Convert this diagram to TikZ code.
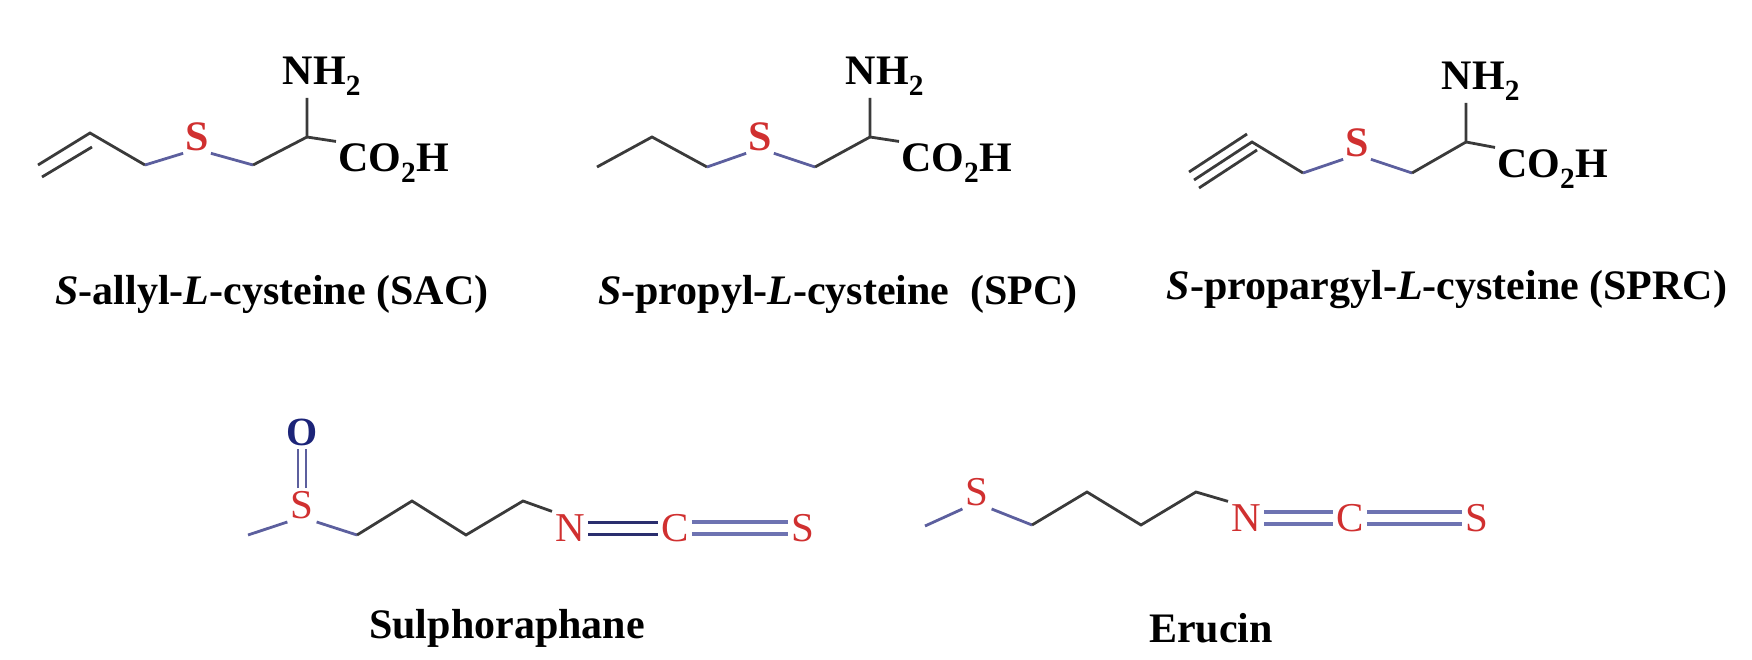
\documentclass[tikz,border=0pt]{standalone}
\usetikzlibrary{calc}
\usepackage{fontspec}
\setmainfont{Liberation Serif}
\definecolor{bnd}{HTML}{3A3A3A}
\definecolor{sbnd}{HTML}{5C5F9E}
\definecolor{ncs}{HTML}{6E73B2}
\definecolor{ncsd}{HTML}{2A2E6E}
\definecolor{atr}{HTML}{D03030}
\definecolor{atb}{HTML}{1C2478}
\tikzset{
  bond/.style={draw=bnd,line width=2.8pt},
  sbond/.style={draw=sbnd,line width=2.8pt},
  atom/.style={inner sep=2pt,font=\fontsize{42}{46}\selectfont\bfseries},
  ratom/.style={inner sep=3pt,font=\fontsize{41}{45}\selectfont},
  lab/.style={font=\fontsize{42}{48}\selectfont\bfseries},
}
\begin{document}
\begin{tikzpicture}[x=1pt,y=-1pt]
\useasboundingbox (0,0) rectangle (1752,660);
% ---------- SAC ----------
\coordinate (a1) at (38,165); \coordinate (a2) at (90,133); \coordinate (a3) at (145,165);
\node[atom,text=atr] (aS) at (197,137) {S};
\coordinate (a4) at (253,165); \coordinate (a5) at (307,137);
\node[atom,anchor=south] (aN) at (322,98) {NH\textsubscript{2}};
\node[atom,anchor=west] (aC) at (336,163) {CO\textsubscript{2}H};
\draw[bond] (a1)--(a2)--(a3);
\draw[bond] ($(a1)+(4,12)$)--($(a2)+(2,14)$);
\draw[sbond] (a3)--(aS.south west); \draw[sbond] (aS.south east)--(a4);
\draw[bond] (a4)--(a5)--(a5|-aN.south); \draw[bond] (a5)--(aC.north west);
\node[lab] (aL) at (272,294) {\textit{S}-allyl-\textit{L}-cysteine (SAC)};
% ---------- SPC ----------
\coordinate (b1) at (597,167); \coordinate (b2) at (652,137); \coordinate (b3) at (707,167);
\node[atom,text=atr] (bS) at (760,137) {S};
\coordinate (b4) at (815,167); \coordinate (b5) at (870,137);
\node[atom,anchor=south] (bN) at (885,98) {NH\textsubscript{2}};
\node[atom,anchor=west] (bC) at (899,163) {CO\textsubscript{2}H};
\draw[bond] (b1)--(b2)--(b3);
\draw[sbond] (b3)--(bS.south west); \draw[sbond] (bS.south east)--(b4);
\draw[bond] (b4)--(b5)--(b5|-bN.south); \draw[bond] (b5)--(bC.north west);
\node[lab] (bL) at (838,294) {\textit{S}-propyl-\textit{L}-cysteine\ \ (SPC)};
% ---------- SPRC ----------
\coordinate (c1) at (1194,180); \coordinate (c2) at (1252,142); \coordinate (c3) at (1303,173);
\node[atom,text=atr] (cS) at (1357,143) {S};
\coordinate (c4) at (1412,173); \coordinate (c5) at (1466,142);
\node[atom,anchor=south] (cN) at (1481,103) {NH\textsubscript{2}};
\node[atom,anchor=west] (cC) at (1495,169) {CO\textsubscript{2}H};
\draw[bond] (c1)--(c2)--(c3);
\draw[bond] ($(c1)+(-5,-8)$)--($(c2)+(-5,-8)$);
\draw[bond] ($(c1)+(5,8)$)--($(c2)+(5,8)$);
\draw[sbond] (c3)--(cS.south west); \draw[sbond] (cS.south east)--(c4);
\draw[bond] (c4)--(c5)--(c5|-cN.south); \draw[bond] (c5)--(cC.north west);
\node[lab] (cL) at (1447,290) {\textit{S}-propargyl-\textit{L}-cysteine (SPRC)};
% ---------- Sulphoraphane ----------
\coordinate (d0) at (248,535);
\node[ratom,text=atr] (dS) at (302,505) {S};
\node[ratom,text=atb,font=\fontsize{40}{44}\selectfont\bfseries] (dO) at (302,432) {O};
\coordinate (d1) at (357,535); \coordinate (d2) at (412,501); \coordinate (d3) at (466,535); \coordinate (d4) at (523,501);
\node[ratom,text=atr] (dN) at (570,528) {N};
\node[ratom,text=atr] (dC) at (675,528) {C};
\node[ratom,text=atr] (dT) at (803,528) {S};
\draw[sbond] (d0)--(dS.south west); \draw[sbond] (dS.south east)--(d1);
\draw[bond] (d1)--(d2)--(d3)--(d4)--(dN.north west);
\draw[sbond] ([xshift=-4pt]dS.north)--([xshift=-4pt]dO.south);
\draw[sbond] ([xshift=4pt]dS.north)--([xshift=4pt]dO.south);
\draw[draw=ncsd,line width=3pt] ([yshift=-6pt]dN.east)--([yshift=-6pt]dC.west);
\draw[draw=ncsd,line width=3pt] ([yshift=6pt]dN.east)--([yshift=6pt]dC.west);
\draw[draw=ncs,line width=3.5pt] ([yshift=-6pt]dC.east)--([yshift=-6pt]dT.west);
\draw[draw=ncs,line width=3.5pt] ([yshift=6pt]dC.east)--([yshift=6pt]dT.west);
\node[lab] (dL) at (507,628) {Sulphoraphane};
% ---------- Erucin ----------
\coordinate (e0) at (925,526);
\node[ratom,text=atr] (eS) at (977,492) {S};
\coordinate (e1) at (1032,525); \coordinate (e2) at (1087,492); \coordinate (e3) at (1141,525); \coordinate (e4) at (1196,492);
\node[ratom,text=atr] (eN) at (1246,518) {N};
\node[ratom,text=atr] (eC) at (1350,518) {C};
\node[ratom,text=atr] (eT) at (1477,518) {S};
\draw[sbond] (e0)--(eS.south west); \draw[sbond] (eS.south east)--(e1);
\draw[bond] (e1)--(e2)--(e3)--(e4)--(eN.north west);
\draw[draw=ncs,line width=3.5pt] ([yshift=-6pt]eN.east)--([yshift=-6pt]eC.west);
\draw[draw=ncs,line width=3.5pt] ([yshift=6pt]eN.east)--([yshift=6pt]eC.west);
\draw[draw=ncs,line width=3.5pt] ([yshift=-6pt]eC.east)--([yshift=-6pt]eT.west);
\draw[draw=ncs,line width=3.5pt] ([yshift=6pt]eC.east)--([yshift=6pt]eT.west);
\node[lab] (eL) at (1211,628) {Erucin};
\end{tikzpicture}
\end{document}
